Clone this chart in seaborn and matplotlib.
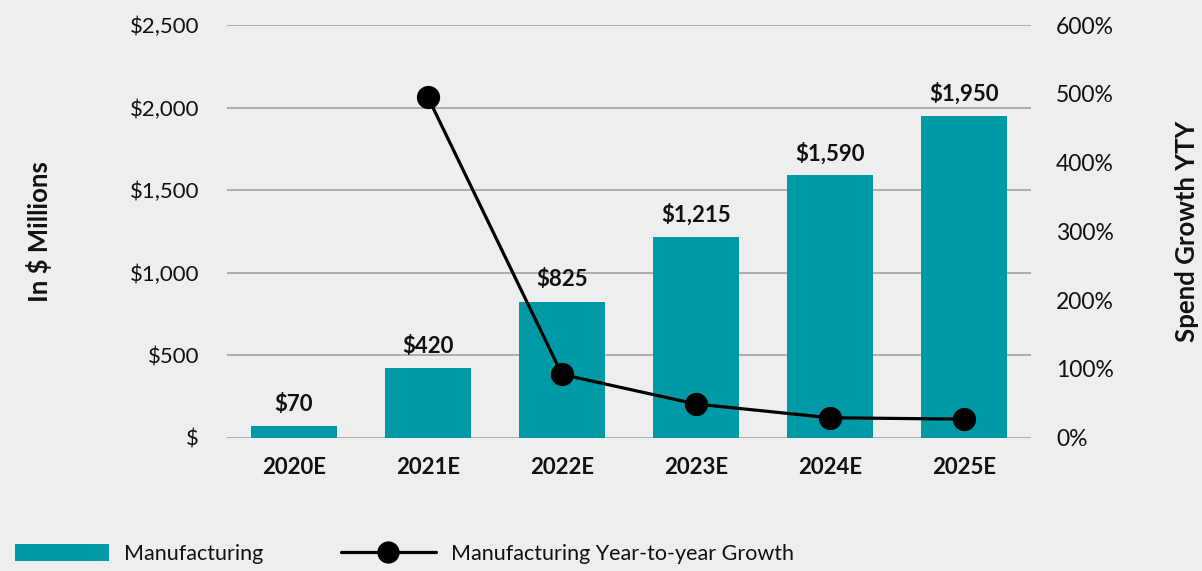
import matplotlib
matplotlib.use("Agg")
import matplotlib.pyplot as plt
import seaborn as sns
import pandas as pd
from matplotlib.patches import Patch
from matplotlib.lines import Line2D
from matplotlib.ticker import FuncFormatter

years = ["2020E", "2021E", "2022E", "2023E", "2024E", "2025E"]
spend = [70, 420, 825, 1215, 1590, 1950]
spend_labels = ["$70", "$420", "$825", "$1,215", "$1,590", "$1,950"]
growth_years = ["2021E", "2022E", "2023E", "2024E", "2025E"]
growth = [495, 92, 49, 29, 27]
left_ticks = [0, 500, 1000, 1500, 2000, 2500]
left_tick_labels = ["$", "$500", "$1,000", "$1,500", "$2,000", "$2,500"]
right_ticks = [0, 100, 200, 300, 400, 500, 600]

BG = "#EEEEEE"
TEAL = "#009AA6"
GRID = "#A8A8A8"
TXT = "#111111"

sns.set_style("white")
plt.rcParams["font.family"] = ["Lato", "DejaVu Sans"]

fig = plt.figure(figsize=(12.02, 5.71), dpi=100, facecolor=BG)
ax = fig.add_axes([227 / 1202, 1 - 437.7 / 571, (1031 - 227) / 1202, (437.7 - 25.2) / 571])
ax.set_facecolor(BG)

df = pd.DataFrame({"year": years, "spend": spend})
sns.barplot(data=df, x="year", y="spend", order=years, color=TEAL,
            saturation=1, width=0.64, linewidth=0, edgecolor="none", ax=ax, zorder=2)

ax.set_ylim(0, 2500)
ax.set_xlim(-0.5, 5.5)
ax.set_yticks(left_ticks)
ax.set_yticklabels(left_tick_labels)
ax.yaxis.grid(True, color=GRID, lw=1.3, zorder=0)
ax.set_axisbelow(True)
for s in ax.spines.values():
    s.set_visible(False)
ax.tick_params(axis="both", length=0, labelcolor=TXT)
ax.tick_params(axis="y", labelsize=16, pad=20)
ax.tick_params(axis="x", labelsize=16, pad=14)
for t in ax.get_xticklabels():
    t.set_fontweight("bold")
ax.set_xlabel("")
ax.set_ylabel("In $ Millions", fontsize=18.5, fontweight="bold", labelpad=56, color=TXT)

for p, lab in zip(ax.patches, spend_labels):
    ax.annotate(lab, (p.get_x() + p.get_width() / 2, p.get_height()),
                xytext=(0, 8), textcoords="offset points", ha="center", va="bottom",
                fontsize=16, fontweight="bold", color=TXT)

ax2 = ax.twinx()
gdf = pd.DataFrame({"year": growth_years, "growth": growth})
sns.pointplot(data=gdf, x="year", y="growth", order=years, color="black",
              markers="o", markersize=15, linewidth=2.3, ax=ax2)
ax2.set_xlim(-0.5, 5.5)
ax2.set_ylim(0, 600)
ax2.set_yticks(right_ticks)
ax2.yaxis.set_major_formatter(FuncFormatter(lambda v, p: f"{int(v)}%"))
for s in ax2.spines.values():
    s.set_visible(False)
ax2.tick_params(axis="y", length=0, labelsize=16.5, pad=18, labelcolor=TXT)
ax2.set_ylabel("Spend Growth YTY", fontsize=18.5, fontweight="bold", labelpad=44, color=TXT)
ax2.set_xlabel("")
ax2.grid(False)

handles = [Patch(facecolor=TEAL, edgecolor="none"),
           Line2D([0], [0], color="black", lw=2.3, marker="o", markersize=15)]
fig.legend(handles, ["Manufacturing", "Manufacturing Year-to-year Growth"],
           loc="center left", bbox_to_anchor=(-0.004, 1 - 554 / 571), ncol=2,
           frameon=False, fontsize=15.5, handlelength=4.4, handleheight=0.85,
           columnspacing=3.6, handletextpad=0.7, labelcolor=TXT)

fig.savefig("out.png", dpi=100, facecolor=BG)
